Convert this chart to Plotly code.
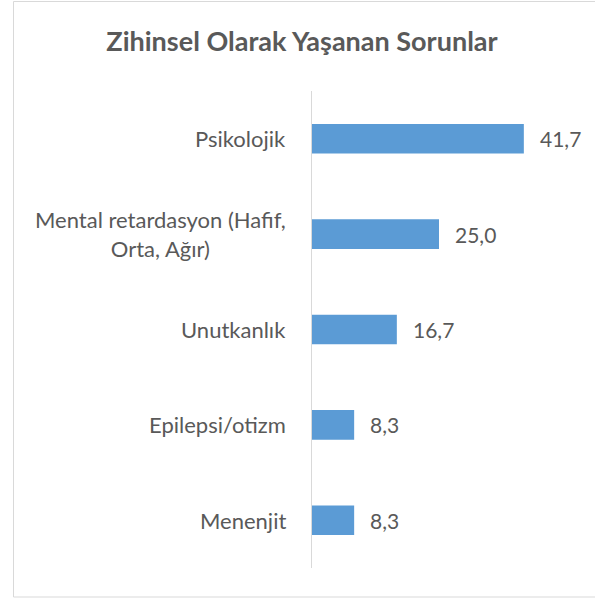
import plotly.graph_objects as go

categories = ["Psikolojik", "Mental retardasyon (Hafif,<br>Orta, Ağır)", "Unutkanlık", "Epilepsi/otizm", "Menenjit"]
values = [41.7, 25.0, 16.7, 8.3, 8.3]
title_text = "Zihinsel Olarak Yaşanan Sorunlar"

W, H = 595, 601
L, R, T, B = 312, 29, 91, 33
pw, ph = W - L - R, H - T - B
FONT = "Lato"
TXT = "#595959"

fig = go.Figure(go.Bar(
    x=values, y=categories, orientation="h",
    marker=dict(color="#5B9BD5", line=dict(width=0)),
    width=0.31,
    cliponaxis=False,
))

for c in categories:
    fig.add_annotation(x=0, y=c, xref="paper", yref="y", text=c, showarrow=False,
                       xanchor="right", xshift=-24, align="center",
                       font=dict(family=FONT, size=22, color=TXT))

for c, v in zip(categories, values):
    fig.add_annotation(x=v, y=c, xref="x", yref="y", text=f"{v:.1f}".replace(".", ","),
                       showarrow=False, xanchor="left", xshift=14,
                       font=dict(family=FONT, size=21, color=TXT))

def px_x(p):
    return (p - L) / pw

def px_y(p):
    return (H - B - p) / ph

fig.add_shape(type="rect", xref="paper", yref="paper",
              x0=px_x(13.5), x1=px_x(600), y0=px_y(597), y1=px_y(1.5),
              line=dict(color="#D9D9D9", width=1), fillcolor="rgba(0,0,0,0)")

fig.update_layout(
    width=W, height=H,
    margin=dict(l=L, r=R, t=T, b=B),
    paper_bgcolor="white", plot_bgcolor="white",
    separators=",.",
    showlegend=False,
    title=dict(text="<b>" + title_text + "</b>", xref="container", yref="container",
               x=302 / W, xanchor="center", y=1 - 42 / H, yanchor="middle",
               font=dict(family=FONT, size=27, color=TXT)),
    xaxis=dict(range=[0, 50], visible=False, fixedrange=True),
    yaxis=dict(autorange="reversed", showticklabels=False, ticks="",
               showgrid=False, showline=True, linecolor="#D9D9D9", linewidth=1.3,
               zeroline=False, fixedrange=True),
)

fig.write_html("out.html", config={"displayModeBar": False},
               post_script="document.body.style.margin='0';document.body.style.overflow='hidden';")
